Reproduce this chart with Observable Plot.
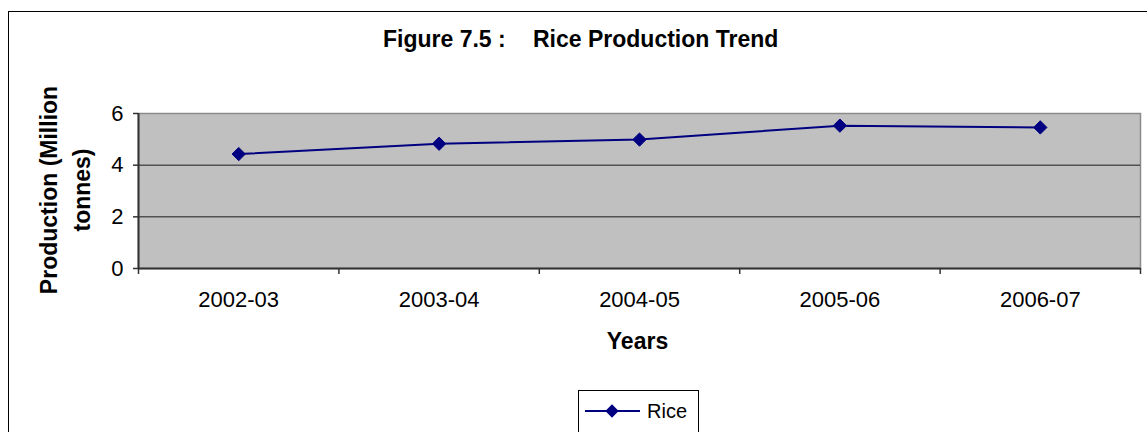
<!DOCTYPE html>
<html>
<head>
<meta charset="utf-8">
<script src="https://cdn.jsdelivr.net/npm/d3@7"></script>
<script src="https://cdn.jsdelivr.net/npm/@observablehq/plot@0.6"></script>
<style>
  html, body { margin: 0; padding: 0; background: #fff; }
  svg { display: block; }
</style>
</head>
<body>
<div id="chart"></div>
<script>
const categories = ["2002-03", "2003-04", "2004-05", "2005-06", "2006-07"];
const riceValues = [4.43, 4.83, 4.99, 5.53, 5.46];
const yTicks = [0, 2, 4, 6];
const gridValues = [2, 4];
const seriesName = "Rice";
const titleLeft = "Figure 7.5 :";
const titleRight = "Rice Production Trend";
const xLabel = "Years";
const yLabelLines = ["Production (Million", "tonnes)"];

const data = categories.map((c, i) => ({i, year: c, value: riceValues[i]}));
const boundaries = d3.range(categories.length + 1).map(i => i - 0.5);
const navy = "#000080";

const plot = Plot.plot({
  width: 1147,
  height: 432,
  marginLeft: 138,
  marginRight: 7,
  marginTop: 113,
  marginBottom: 164,
  style: {fontFamily: "'Liberation Sans', Arial, sans-serif", fontSize: "22px", color: "#000", background: "#fff"},
  x: {domain: [-0.5, categories.length - 0.5], axis: null},
  y: {domain: [0, 6], axis: null},
  marks: [
    Plot.frame({fill: "#c0c0c0", stroke: "#8a8a8a", strokeWidth: 1.5}),
    Plot.ruleY(gridValues, {stroke: "#1a1a1a", strokeWidth: 1}),
    Plot.ruleY([0], {stroke: "#333", strokeWidth: 2}),
    Plot.ruleX([-0.5], {stroke: "#333", strokeWidth: 2}),
    Plot.axisY({ticks: yTicks, tickSize: 5, tickPadding: 10, fontSize: 22, tickFormat: d => String(d), label: null, stroke: "#333", strokeWidth: 1.5}),
    Plot.axisX({ticks: boundaries, tickSize: 6, tickFormat: () => "", label: null, stroke: "#333", strokeWidth: 1.5}),
    Plot.axisX({ticks: d3.range(categories.length), tickSize: 0, tickPadding: 23, fontSize: 22, tickFormat: i => categories[i], label: null}),
    Plot.line(data, {x: "i", y: "value", stroke: navy, strokeWidth: 2}),
    Plot.dot(data, {x: "i", y: "value", symbol: "diamond2", r: 6, fill: navy, stroke: navy, strokeWidth: 1})
  ]
});

const svg = d3.select(plot);
// outer chart border
svg.insert("rect", ":first-child")
  .attr("x", 8.5).attr("y", 11.5).attr("width", 1200).attr("height", 500)
  .attr("fill", "#fff").attr("stroke", "#000").attr("stroke-width", 1);

const font = "'Liberation Sans', Arial, sans-serif";
// title
const t = svg.append("text").attr("y", 47).attr("text-anchor", "start").attr("font-family", font)
  .attr("font-size", 23).attr("font-weight", "bold").attr("fill", "#000");
t.append("tspan").attr("x", 383).attr("text-anchor", "start").text(titleLeft);
t.append("tspan").attr("x", 533).attr("text-anchor", "start").text(titleRight);

// x label
svg.append("text").attr("x", 637.5).attr("y", 349).attr("text-anchor", "middle")
  .attr("font-family", font).attr("font-size", 23).attr("font-weight", "bold").attr("fill", "#000")
  .text(xLabel);

// y label (two lines)
yLabelLines.forEach((line, k) => {
  svg.append("text")
    .attr("transform", `translate(${57 + k * 33},190) rotate(-90)`)
    .attr("text-anchor", "middle")
    .attr("font-family", font).attr("font-size", 23).attr("font-weight", "bold").attr("fill", "#000")
    .text(line);
});

// legend
const lg = svg.append("g");
lg.append("rect").attr("x", 578.5).attr("y", 390.5).attr("width", 120).attr("height", 60)
  .attr("fill", "#fff").attr("stroke", "#000").attr("stroke-width", 1);
lg.append("line").attr("x1", 585).attr("x2", 640).attr("y1", 411).attr("y2", 411)
  .attr("stroke", navy).attr("stroke-width", 2);
lg.append("path").attr("d", d3.symbol(d3.symbolDiamond2, 113)()).attr("transform", "translate(612,411)")
  .attr("fill", navy);
lg.append("text").attr("x", 647).attr("y", 418).attr("text-anchor", "start").attr("font-family", font).attr("font-size", 20)
  .attr("fill", "#000").text(seriesName);

document.getElementById("chart").appendChild(plot);
</script>
</body>
</html>
